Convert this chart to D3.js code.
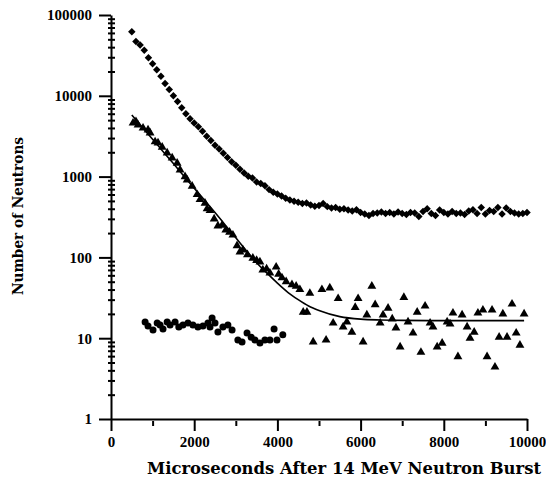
<!DOCTYPE html>
<html>
<head>
<meta charset="utf-8">
<title>Neutron counts</title>
<script src="https://d3js.org/d3.v7.min.js"></script>
<style>
  body { margin: 0; background: #fff; }
  .axis path, .axis line { stroke: #000; stroke-width: 2; fill: none; }
  .axis text { font-family: "Liberation Serif", serif; font-weight: bold; font-size: 15px; fill: #000; }
  .title { font-family: "DejaVu Serif", serif; font-weight: bold; fill: #000; }
</style>
</head>
<body>
<script>
// time after burst (microseconds) and counts
var diamondTime = [500,600,700,800,900,1000,1100,1200,1300,1400,1500,1600,1700,1800,1900,2000,2100,2200,2300,2400,2500,2600,2700,2800,2900,3000,3100,3200,3300,3400,3500,3600,3700,3800,3900,4000,4100,4200,4300,4400,4500,4600,4700,4800,4900,5000,5100,5200,5300,5400,5500,5600,5700,5800,5900,6000,6100,6200,6300,6400,6500,6600,6700,6800,6900,7000,7100,7200,7300,7400,7500,7600,7700,7800,7900,8000,8100,8200,8300,8400,8500,8600,8700,8800,8900,9000,9100,9200,9300,9400,9500,9600,9700,9800,9900,10000];
var diamondCount = [62000,47000,42500,36500,29500,25000,21000,17500,14200,12000,10000,8500,7100,6000,5200,4600,4150,3650,3150,2800,2450,2200,1950,1720,1530,1380,1230,1110,1010,960,860,820,770,690,640,610,575,540,515,495,480,465,470,445,430,440,465,425,410,415,395,400,385,375,390,360,345,330,350,355,365,350,360,345,365,350,340,360,355,320,370,400,350,330,385,360,345,370,350,355,340,375,390,350,415,345,380,370,415,345,410,370,355,345,350,360];

var triangleTime = [530,600,650,770,890,940,1060,1130,1230,1350,1470,1590,1660,1780,1830,1950,2070,2140,2260,2310,2380,2480,2570,2670,2760,2850,2930,3030,3100,3170,3280,3410,3500,3580,3650,3740,3820,3970,4030,4110,4210,4350,4450,4540,4620,4710,4780,4860,5070,5170,5260,5340,5460,5580,5670,5790,5870,5940,6060,6150,6270,6350,6470,6540,6660,6760,6850,6950,7040,7140,7260,7360,7450,7550,7670,7740,7840,7960,8080,8150,8220,8340,8440,8560,8630,8730,8820,8940,9040,9160,9230,9330,9420,9520,9640,9740,9830,9930];
var triangleCount = [4600,4800,4350,3990,3780,3470,2700,2610,2320,1960,1700,1470,1210,1000,910,760,600,520,470,400,380,300,245,250,218,205,189,140,117,124,108,98,92,88,70,72,64,76,62,56,50,46,44,40,21,21,36,9,40,9.5,42,15.4,31,13.8,15.9,11.9,24,31,9,19.4,44,26,15.4,19.4,23.6,17.3,13.4,7.8,32,15.9,11.6,21,6.7,25,15.4,13.8,7.8,8.7,15.9,15,20.5,5.9,19.4,13.8,10,11.9,20.5,22.3,5.9,22.3,4.4,10.3,20,10.3,26.5,11.6,8.2,20];

var fitTime = [500,750,1000,1250,1500,1750,2000,2250,2500,2750,3000,3250,3500,3750,4000,4250,4500,4750,5000,5500,6000,6500,7000,8000,9930];
var fitCount = [5800,4100,2900,2050,1450,1020,720,510,360,250,175,122,86,64,48,37,30,25,22,18.5,17.2,16.8,16.6,16.5,16.5];

var circleTime = [820,890,1010,1110,1180,1250,1350,1420,1540,1630,1730,1850,1970,2090,2210,2330,2380,2430,2500,2570,2690,2810,2910,3050,3150,3270,3370,3460,3580,3700,3820,3920,3990,4130];
var circleCount = [15.9,14.2,12.6,15.4,14.6,13.0,15.9,14.6,15.9,13.8,14.6,15.4,14.6,13.8,14.2,15.4,13.8,17.8,15.4,11.9,13.8,14.6,12.6,9.5,9.0,11.6,10.3,9.5,8.7,9.5,9.5,13.0,9.5,11.0];

var xMajor = [0,2000,4000,6000,8000,10000];
var xMinor = [1000,3000,5000,7000,9000];
var yMajor = [1,10,100,1000,10000,100000];

var w = 546, h = 478;

var svg = d3.select("body").append("svg")
  .attr("width", w)
  .attr("height", h);

var x = d3.scaleLinear().domain([0, 10000]).range([111, 527]);
var y = d3.scaleLog().domain([1, 100000]).range([419, 15]);

// minor y ticks: 2..9 of every decade
var yMinor = [];
yMajor.slice(0, -1).forEach(function(d) {
  for (var k = 2; k <= 9; k++) yMinor.push(d * k);
});

// y axis
svg.append("g")
  .attr("class", "axis")
  .attr("transform", "translate(111,0)")
  .call(d3.axisLeft(y).tickValues(yMinor).tickSize(4).tickSizeOuter(0).tickFormat(""))
  .call(function(g) { g.selectAll(".tick line").attr("x2", 4).attr("x1", -3).attr("stroke-width", 1.5); });

svg.append("g")
  .attr("class", "axis")
  .attr("transform", "translate(111,0)")
  .call(d3.axisLeft(y).tickValues(yMajor).tickSize(12).tickSizeOuter(0).tickPadding(7).tickFormat(d3.format("d")))
  .call(function(g) { g.select(".domain").remove(); });

// x axis
svg.append("g")
  .attr("class", "axis")
  .attr("transform", "translate(0,419)")
  .call(d3.axisBottom(x).tickValues(xMinor).tickSize(7).tickSizeOuter(0).tickFormat(""))
  .call(function(g) { g.select(".domain").remove(); g.selectAll(".tick line").attr("y1", 2); });

svg.append("g")
  .attr("class", "axis")
  .attr("transform", "translate(0,419)")
  .call(d3.axisBottom(x).tickValues(xMajor).tickSize(12).tickSizeOuter(0).tickPadding(5).tickFormat(d3.format("d")));

// fitted curve through the triangles
var line = d3.line()
  .x(function(d) { return x(d[0]); })
  .y(function(d) { return y(d[1]); })
  .curve(d3.curveMonotoneX);

svg.append("path")
  .datum(d3.zip(fitTime, fitCount))
  .attr("d", line)
  .attr("fill", "none")
  .attr("stroke", "#000")
  .attr("stroke-width", 1.6);

// diamonds
svg.append("g").selectAll("path")
  .data(d3.zip(diamondTime, diamondCount))
  .enter().append("path")
  .attr("d", d3.symbol().type(d3.symbolSquare).size(28))
  .attr("transform", function(d) { return "translate(" + x(d[0]) + "," + y(d[1]) + ") rotate(45)"; })
  .attr("fill", "#000");

// triangles
svg.append("g").selectAll("path")
  .data(d3.zip(triangleTime, triangleCount))
  .enter().append("path")
  .attr("d", d3.symbol().type(d3.symbolTriangle).size(34))
  .attr("transform", function(d) { return "translate(" + x(d[0]) + "," + y(d[1]) + ")"; })
  .attr("fill", "#000");

// circles
svg.append("g").selectAll("circle")
  .data(d3.zip(circleTime, circleCount))
  .enter().append("circle")
  .attr("cx", function(d) { return x(d[0]); })
  .attr("cy", function(d) { return y(d[1]); })
  .attr("r", 3.5)
  .attr("fill", "#000");

// axis titles
svg.append("text")
  .attr("class", "title")
  .attr("x", 147)
  .attr("y", 474)
  .attr("font-size", "16px")
  .attr("textLength", 394)
  .attr("lengthAdjust", "spacingAndGlyphs")
  .text("Microseconds After 14 MeV Neutron Burst");

svg.append("text")
  .attr("class", "title")
  .attr("transform", "translate(23,295) rotate(-90)")
  .attr("font-size", "14px")
  .attr("textLength", 158)
  .attr("lengthAdjust", "spacingAndGlyphs")
  .text("Number of Neutrons");
</script>
</body>
</html>
